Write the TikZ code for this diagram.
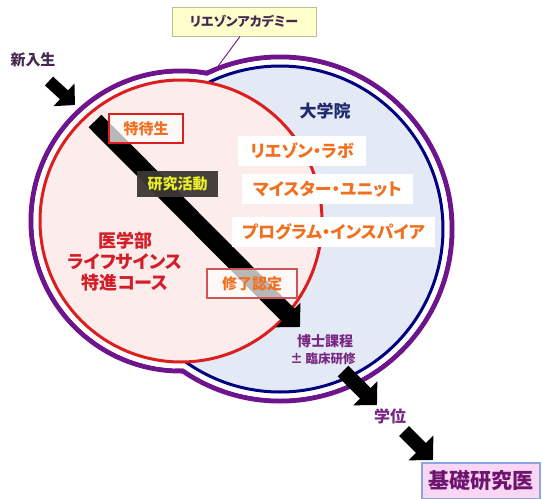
\documentclass[tikz,border=0pt]{standalone}
\usepackage{fontspec}
\setmainfont{Noto Sans CJK JP}[RawFeature=+palt]
\usetikzlibrary{arrows.meta}
\definecolor{purpleL}{RGB}{110,20,140}
\definecolor{redL}{RGB}{220,30,30}
\definecolor{navyL}{RGB}{0,0,128}
\definecolor{pinkF}{RGB}{253,236,236}
\definecolor{blueF}{RGB}{228,234,245}
\definecolor{orangeT}{RGB}{240,112,32}
\definecolor{redT}{RGB}{210,30,40}
\definecolor{navyT}{RGB}{31,42,110}
\definecolor{purpleT}{RGB}{120,40,130}
\definecolor{darkT}{RGB}{70,40,80}
\definecolor{yellowF}{RGB}{255,255,204}
\definecolor{yellowB}{RGB}{190,190,150}
\definecolor{yellowT}{RGB}{235,240,40}
\definecolor{darkF}{RGB}{60,55,52}
\definecolor{kisoF}{RGB}{248,214,244}
\definecolor{kisoB}{RGB}{140,165,225}
\definecolor{kisoT}{RGB}{110,20,110}
\begin{document}
\begin{tikzpicture}[x=1pt,y=-1pt,
  lbl/.style={inner sep=0pt, align=center},
  fs/.style={font=\bfseries\fontsize{#1}{#1}\selectfont},
  wbox/.style={fill=white, inner sep=0pt, minimum height=30pt, text=orangeT, fs=17},
  tagbox/.style={fill=white, fill opacity=0.72, text opacity=1, inner sep=0pt, minimum height=29pt, text=orangeT, line width=1.1pt, fs=15},
  blockarrow/.style={draw=black, line width=#1}
]
\useasboundingbox (0,0) rectangle (542,499);
% outer purple outline (union)
\draw[purpleL, line width=5pt] (181,221) circle[radius=150pt];
\draw[purpleL, line width=5pt] (280,229) circle[radius=172pt];
\fill[white] (181,221) circle[radius=147.5pt];
\fill[white] (280,229) circle[radius=169.5pt];
% graduate school circle
\draw[navyL, line width=3pt, fill=blueF] (280,229) circle[radius=163pt];
% medical school circle
\draw[redL, line width=3pt, fill=pinkF] (181,221) circle[radius=141pt];

% coordinates for arrows
\coordinate (n1) at (49,81);
\coordinate (n2) at (75,105);
\coordinate (m1) at (95,121);
\coordinate (m2) at (300,327);
\coordinate (d1) at (343,371);
\coordinate (d2) at (377,405);
\coordinate (g1) at (404,431);
\coordinate (g2) at (433,460);

\draw[blockarrow=12pt, -{Triangle[width=30pt,length=15pt]}] (n1) -- (n2);
\draw[blockarrow=18pt, -{Triangle[width=34pt,length=17pt]}] (m1) -- (m2);
\draw[blockarrow=15pt, -{Triangle[width=33pt,length=16.5pt]}] (d1) -- (d2);
\draw[blockarrow=14pt, -{Triangle[width=34pt,length=17pt]}] (g1) -- (g2);

% academy label
\node[draw=yellowB, fill=yellowF, line width=1pt, inner sep=0pt, minimum width=144pt, minimum height=29pt, text=darkT, fs=13] (acad) at (244,21.5) {リエゾンアカデミー};
\coordinate (junc) at (213,73);
\draw[purpleL, line width=0.9pt] (240,36.5) -- (junc);

\node[lbl, text=darkT, fs=15] (shin) at (33,60) {新入生};

\node[tagbox, draw=redL, minimum width=74pt] (toku) at (146,128.5) {特待生};
\node[fill=darkF, fill opacity=0.95, text opacity=1, inner sep=0pt, minimum width=81pt, minimum height=26pt, text=yellowT, fs=15] (ken) at (177.5,184) {研究活動};

\node[lbl, text=navyT, fs=17] (dai) at (325,111) {大学院};
\node[wbox, minimum width=128pt] (labo) at (302,151) {リエゾン・ラボ};
\node[wbox, minimum width=171pt] (meis) at (327.5,189) {マイスター・ユニット};
\node[wbox, minimum width=203pt] (prog) at (333.5,232) {プログラム・インスパイア};

\node[lbl, text=redT, fs=18] (igaku) at (125,262) {医学部\\[3pt]ライフサインス\\[3pt]特進コース};

\node[tagbox, draw={rgb,255:red,205;green,85;blue,85}, minimum width=90pt] (shuryo) at (252,283.5) {修了認定};

\node[lbl, text=purpleT, fs=14] (haku) at (325,341) {博士課程};
\node[lbl, text=purpleT, fs=12.5] (rin) at (323,359) {± 臨床研修};
\node[lbl, text=purpleT, fs=16] (gaku) at (390,416) {学位};

\node[draw=kisoB, fill=kisoF, line width=1.5pt, inner sep=0pt, minimum width=118pt, minimum height=36pt, text=kisoT, fs=21] (kiso) at (481,481) {基礎研究医};
\end{tikzpicture}
\end{document}
